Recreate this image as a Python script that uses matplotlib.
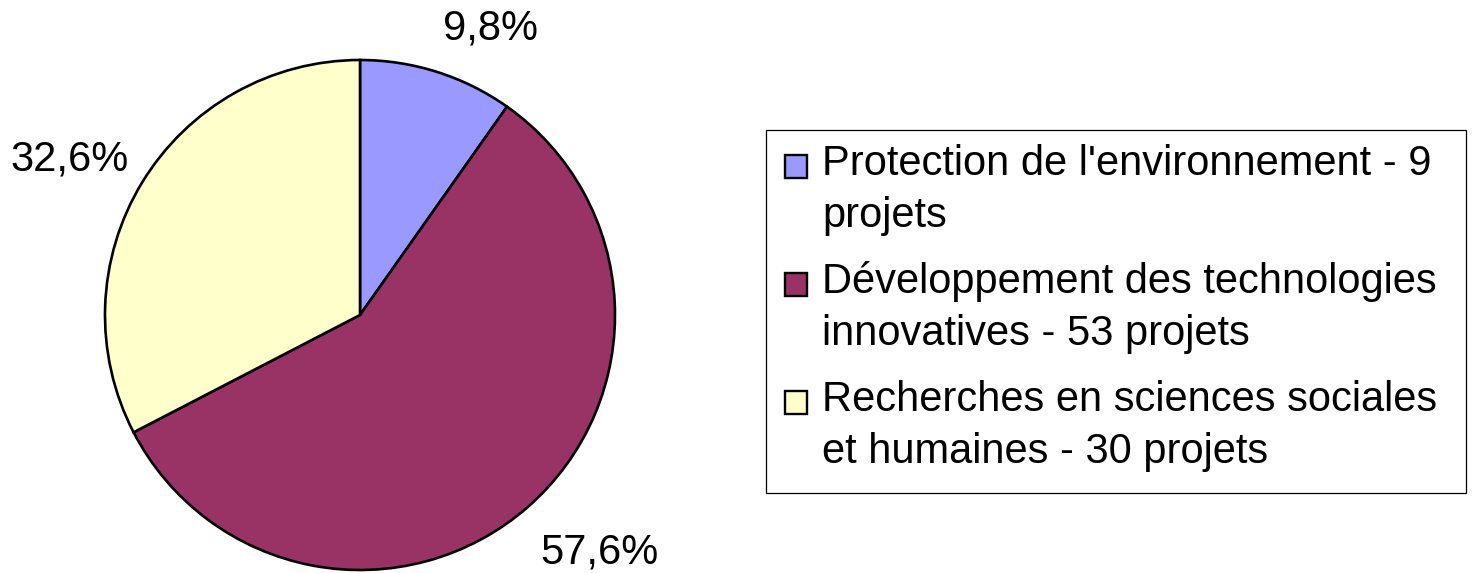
import matplotlib
matplotlib.use("Agg")
import matplotlib.pyplot as plt
from matplotlib.patches import Rectangle

plt.rcParams['font.family'] = ['Liberation Sans', 'DejaVu Sans']

# data
labels = ["Protection de l'environnement - 9\nprojets",
          "Développement des technologies\ninnovatives - 53 projets",
          "Recherches en sciences sociales\net humaines - 30 projets"]
projets = [9, 53, 30]
pct_text = ["9,8%", "57,6%", "32,6%"]
colors = ["#9999FF", "#993366", "#FFFFCC"]
# label offsets (in pie radius units) where the percentages sit
pct_pos = [(0.51, 1.125), (0.94, -0.93), (-1.14, 0.61)]

W, H = 1472, 573
fig = plt.figure(figsize=(W / 100, H / 100), dpi=100)

def fx(x):
    return x / W

def fy(y):
    return 1 - y / H

# pie: centre ~ (360, 315) px, radius ~255 px
ax = fig.add_axes([fx(105), 3 / H, 510 / W, 510 / H])
wedges, _ = ax.pie(projets, colors=colors, startangle=90, counterclock=False,
                   wedgeprops=dict(edgecolor="black", linewidth=1.9))
ax.set_xlim(-1, 1)
ax.set_ylim(-1, 1)
ax.set_aspect("equal")
ax.axis("off")

for t, (x, y) in zip(pct_text, pct_pos):
    ax.text(x, y, t, ha="center", va="center", fontsize=30, color="black")

# legend drawn by hand to match the box layout
fig.patches.append(Rectangle((fx(766), fy(493)), 700 / W, 363 / H,
                             transform=fig.transFigure, fill=False,
                             edgecolor="black", linewidth=0.9))
base0 = 175
entry_gap = 118
line_gap = 52
for i, (lab, col) in enumerate(zip(labels, colors)):
    b = base0 + i * entry_gap
    fig.patches.append(Rectangle((fx(785), fy(b + 3)), 22 / W, 23 / H,
                                 transform=fig.transFigure, facecolor=col,
                                 edgecolor="black", linewidth=1.7))
    for j, line in enumerate(lab.split("\n")):
        fig.text(fx(822), fy(b + j * line_gap), line, ha="left", va="baseline",
                 fontsize=30, color="black")

fig.savefig("out.png", dpi=100, facecolor="white")
